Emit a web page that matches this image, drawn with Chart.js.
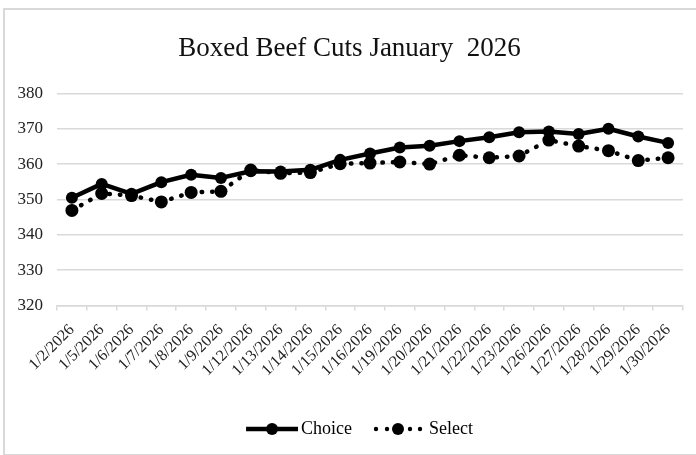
<!DOCTYPE html>
<html>
<head>
<meta charset="utf-8">
<script src="https://cdn.jsdelivr.net/npm/chart.js@4"></script>
<style>
  body { margin: 0; background: #fff; }
  #frame { position: absolute; left: 3px; top: 8px; width: 700px; height: 444px; border: 2px solid #d9d9d9; }
  #wrap { position: absolute; left: 0; top: 0; width: 696px; height: 455px; }
</style>
</head>
<body>
<div id="frame"></div>
<div id="wrap"><canvas id="beefChart" width="696" height="455"></canvas></div>
<script>
const dates = ['1/2/2026', '1/5/2026', '1/6/2026', '1/7/2026', '1/8/2026', '1/9/2026', '1/12/2026',
    '1/13/2026', '1/14/2026', '1/15/2026', '1/16/2026', '1/19/2026', '1/20/2026', '1/21/2026',
    '1/22/2026', '1/23/2026', '1/26/2026', '1/27/2026', '1/28/2026', '1/29/2026', '1/30/2026'];
const choice = [350.5, 354.4, 351.6, 354.9, 357.0, 356.1, 358.0, 357.9, 358.4, 361.2, 363.0,
    364.7, 365.2, 366.5, 367.6, 369.0, 369.2, 368.5, 370.0, 367.8, 366.0];
const select = [346.9, 351.7, 351.1, 349.3, 352.0, 352.3, 358.3, 357.4, 357.6, 360.1, 360.3,
    360.6, 360.0, 362.5, 361.8, 362.3, 366.8, 365.1, 363.8, 361.0, 361.8];
const yTicks = [320, 330, 340, 350, 360, 370, 380];

const serif = 'Liberation Serif';

// legend key samples (line + marker), drawn off to the right of the box so the gap to the text is small
function legendSample(dotted) {
    const c = document.createElement('canvas');
    c.width = 62; c.height = 14;
    const g = c.getContext('2d');
    g.fillStyle = '#000';
    g.strokeStyle = '#000';
    if (dotted) {
        [12, 23, 46, 56].forEach(x => { g.beginPath(); g.arc(x, 7, 2.2, 0, Math.PI * 2); g.fill(); });
        g.beginPath(); g.arc(34, 7, 6, 0, Math.PI * 2); g.fill();
    } else {
        g.lineWidth = 4.5;
        g.beginPath(); g.moveTo(10, 7); g.lineTo(62, 7); g.stroke();
        g.beginPath(); g.arc(36, 7, 6, 0, Math.PI * 2); g.fill();
    }
    return c;
}

// nudge the legend row a little to the right, as in the original
const legendShift = {
    id: 'legendShift',
    afterLayout(chart) { chart.legend.left += 16; }
};

const ctx = document.getElementById('beefChart').getContext('2d');
const chart = new Chart(ctx, {
    type: 'line',
    data: {
        labels: dates,
        datasets: [{
            label: 'Choice',
            data: choice,
            borderColor: '#000',
            backgroundColor: '#000',
            borderWidth: 4.5,
            borderJoinStyle: 'round',
            pointRadius: 6,
            pointBackgroundColor: '#000',
            pointBorderWidth: 0,
            tension: 0
        }, {
            label: 'Select',
            data: select,
            borderColor: '#000',
            backgroundColor: '#000',
            borderWidth: 4.5,
            borderDash: [0.5, 10],
            borderCapStyle: 'round',
            pointRadius: 6.5,
            pointBackgroundColor: '#000',
            pointBorderWidth: 0,
            tension: 0
        }]
    },
    plugins: [legendShift],
    options: {
        responsive: false,
        animation: false,
        layout: { padding: { left: 16, right: 13, top: 20, bottom: 7 } },
        plugins: {
            title: {
                display: true,
                text: 'Boxed Beef Cuts January  2026',
                color: '#111',
                font: { family: serif, size: 27, weight: 'normal' },
                padding: { top: 13, bottom: 28 }
            },
            legend: {
                position: 'bottom',
                labels: {
                    usePointStyle: true,
                    pointStyleWidth: 50,
                    padding: 18,
                    color: '#111',
                    font: { family: serif, size: 18 },
                    generateLabels: (c) => c.data.datasets.map((ds, i) => ({
                        text: ds.label,
                        pointStyle: legendSample(i === 1),
                        fillStyle: '#000',
                        strokeStyle: '#000',
                        lineWidth: 0,
                        datasetIndex: i
                    }))
                }
            },
            tooltip: { enabled: false }
        },
        scales: {
            x: {
                offset: true,
                grid: { offset: true, drawOnChartArea: false, drawTicks: true, tickLength: 5, color: '#d9d9d9', lineWidth: 1.5 },
                border: { color: '#d9d9d9', width: 1.5 },
                ticks: {
                    minRotation: 45,
                    maxRotation: 45,
                    autoSkip: false,
                    padding: 10,
                    color: '#222',
                    font: { family: serif, size: 16 }
                },
                afterFit: (scale) => {
                    scale.height += 12;
                    scale.paddingLeft = 0;
                    scale.paddingRight = 0;
                }
            },
            y: {
                min: 320,
                max: 380,
                afterBuildTicks: (scale) => { scale.ticks = yTicks.map(v => ({ value: v })); },
                afterFit: (scale) => { scale.width = 41; },
                grid: { color: '#d9d9d9', lineWidth: 1.5, drawTicks: false },
                border: { display: false },
                ticks: {
                    padding: 14,
                    color: '#222',
                    font: { family: serif, size: 17 }
                }
            }
        }
    }
});
</script>
</body>
</html>
